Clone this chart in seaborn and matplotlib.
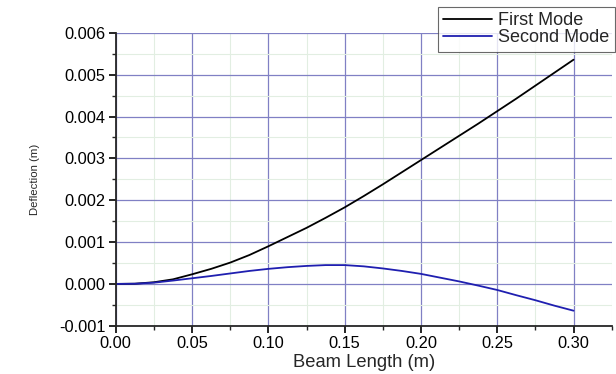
import numpy as np
import pandas as pd
import matplotlib
matplotlib.use('Agg')
import matplotlib.pyplot as plt
from matplotlib.ticker import MultipleLocator
import seaborn as sns

# values
beam_x = [0.0, 0.0125, 0.025, 0.0375, 0.05, 0.0625, 0.075, 0.0875, 0.10, 0.1125,
          0.125, 0.1375, 0.15, 0.1625, 0.175, 0.1875, 0.20, 0.2125, 0.225, 0.2375,
          0.25, 0.2625, 0.275, 0.2875, 0.30]
first_mode = [0.0, 0.000005, 0.00004, 0.00011, 0.00023, 0.00036, 0.00051, 0.00069, 0.00090, 0.00112,
              0.00134, 0.00158, 0.00183, 0.00210, 0.00238, 0.00267, 0.00296, 0.00325, 0.00354, 0.00383,
              0.00413, 0.00443, 0.00474, 0.00505, 0.00536]
second_mode = [0.0, 0.000005, 0.00003, 0.00008, 0.000135, 0.00019, 0.00025, 0.00031, 0.00036, 0.00040,
               0.00043, 0.00045, 0.00045, 0.00042, 0.00037, 0.00031, 0.00024, 0.00015, 0.00006, -0.00004,
               -0.000145, -0.00027, -0.00039, -0.00052, -0.00064]

df = pd.DataFrame({'x': beam_x * 2,
                   'y': first_mode + second_mode,
                   'mode': ['First Mode'] * len(beam_x) + ['Second Mode'] * len(beam_x)})

sns.set_style('ticks')
plt.rcParams['font.family'] = ['Liberation Sans', 'DejaVu Sans']

fig = plt.figure(figsize=(6.16, 3.74), dpi=100)
ax = fig.add_axes([0.188, 0.129, 0.805, 0.783])

sns.lineplot(data=df, x='x', y='y', hue='mode',
             palette={'First Mode': 'black', 'Second Mode': '#1f1fb0'},
             linewidth=1.3, ax=ax, legend=False, sort=False)

ax.set_xlim(0, 0.325)
ax.set_ylim(-0.001, 0.006)
ax.xaxis.set_minor_locator(MultipleLocator(0.025))
ax.yaxis.set_minor_locator(MultipleLocator(0.0005))
ax.set_xticks(np.arange(0, 0.31, 0.05))
ax.set_xticklabels(['0.00', '0.05', '0.10', '0.15', '0.20', '0.25', '0.30'])
ax.set_yticks(np.arange(-0.001, 0.0061, 0.001))
ax.set_yticklabels(['-0.001', '0.000', '0.001', '0.002', '0.003', '0.004', '0.005', '0.006'])

ax.grid(which='major', color='#8080c4', linewidth=0.9)
ax.grid(which='minor', color='#e2eee2', linewidth=0.8)
ax.set_axisbelow(True)

for s in ['top', 'right']:
    ax.spines[s].set_visible(False)
ax.spines['left'].set_linewidth(1.3)
ax.spines['bottom'].set_linewidth(1.3)
ax.tick_params(which='major', direction='out', length=5, width=1.2, labelsize=11.8,
               colors='black', pad=2.5)
ax.tick_params(which='minor', direction='out', length=3, width=1.0)

ax.set_xlabel('Beam Length (m)', fontsize=13.2, labelpad=2)
ax.set_ylabel('Deflection (m)', fontsize=8.2, labelpad=14)

h1, = ax.plot([], [], color='black', linewidth=1.3)
h2, = ax.plot([], [], color='#1f1fb0', linewidth=1.3)
leg = fig.legend([h1, h2], ['First Mode', 'Second Mode'], loc='upper left',
                 bbox_to_anchor=(438 / 616, 1 - 7 / 374), fontsize=13, frameon=True, fancybox=False,
                 handlelength=2.7, borderpad=0.3, labelspacing=0.0, handletextpad=0.35,
                 borderaxespad=0)
leg.get_frame().set_edgecolor('#444444')
leg.get_frame().set_linewidth(0.8)

fig.savefig('out.png', dpi=100)
